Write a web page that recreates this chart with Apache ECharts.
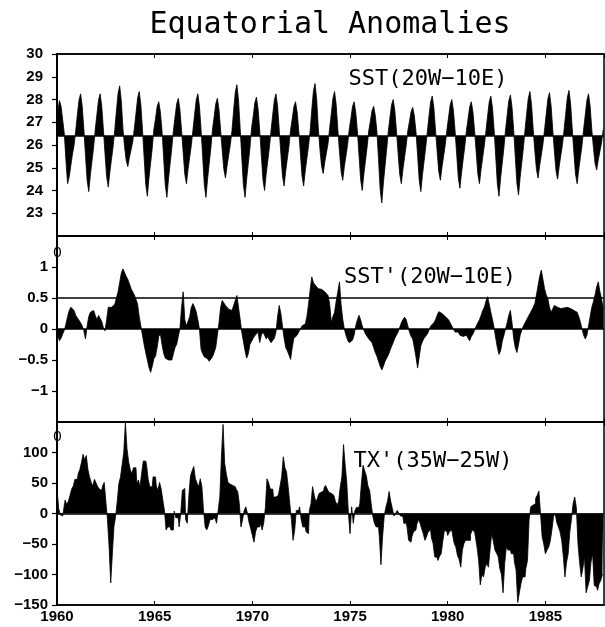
<!DOCTYPE html>
<html><head><meta charset="utf-8">
<script src="https://cdn.jsdelivr.net/npm/echarts@6/dist/echarts.min.js"></script>
<style>html,body{margin:0;padding:0;background:#fff}#c{width:605px;height:627px}</style>
</head><body><div id="c"></div>
<script>
const startYear = 1960, endYear = 1988;
const yearTicks = [1960, 1965, 1970, 1975, 1980, 1985];
const sstBase = 26.4;
const panelLabels = ["SST(20W\u221210E)", "SST'(20W\u221210E)", "TX'(35W\u221225W)"];
const titleText = "Equatorial Anomalies";

// SST (deg C), monthly Jan..Dec, 1960-1987
const sst = [
27.50,27.95,27.70,27.10,26.50,25.30,24.30,24.60,25.10,25.60,26.00,26.63,
27.33,27.97,28.25,27.70,26.68,25.54,24.44,23.95,24.69,25.30,25.91,26.68,
27.33,27.97,28.25,27.70,26.68,25.61,24.60,24.15,24.83,25.39,25.95,26.68,
27.50,28.27,28.60,27.94,26.73,25.93,25.32,25.05,25.46,25.79,26.13,26.73,
27.38,28.06,28.35,27.77,26.69,25.47,24.28,23.75,24.55,25.21,25.87,26.69,
27.15,27.68,27.90,27.45,26.63,25.46,24.24,23.70,24.51,25.19,25.86,26.63,
27.23,27.80,28.05,27.56,26.65,25.67,24.72,24.30,24.93,25.46,25.98,26.65,
27.33,27.97,28.25,27.70,26.68,25.46,24.24,23.70,24.51,25.19,25.86,26.68,
27.23,27.80,28.05,27.56,26.65,25.75,24.92,24.55,25.10,25.57,26.03,26.65,
27.53,28.31,28.65,27.98,26.74,25.46,24.24,23.70,24.51,25.19,25.86,26.74,
27.25,27.85,28.10,27.59,26.66,25.56,24.48,24.00,24.72,25.32,25.92,26.66,
27.33,27.97,28.25,27.70,26.68,25.63,24.64,24.20,24.86,25.41,25.96,26.68,
27.15,27.68,27.90,27.45,26.63,25.63,24.64,24.20,24.86,25.41,25.96,26.63,
27.55,28.36,28.70,28.01,26.75,25.82,25.08,24.75,25.25,25.66,26.07,26.75,
27.38,28.06,28.35,27.77,26.69,25.72,24.84,24.45,25.04,25.52,26.01,26.69,
27.15,27.68,27.90,27.45,26.63,25.56,24.48,24.00,24.72,25.32,25.92,26.63,
27.05,27.51,27.70,27.31,26.60,25.37,24.04,23.45,24.34,25.07,25.81,26.60,
27.20,27.76,28.00,27.52,26.64,25.67,24.72,24.30,24.93,25.46,25.98,26.64,
27.03,27.46,27.65,27.28,26.59,25.54,24.44,23.95,24.69,25.30,25.91,26.59,
27.28,27.89,28.15,27.63,26.66,25.72,24.84,24.45,25.04,25.52,26.01,26.66,
27.20,27.76,28.00,27.52,26.64,25.60,24.56,24.10,24.79,25.37,25.94,26.64,
27.15,27.68,27.90,27.45,26.63,25.67,24.72,24.30,24.93,25.46,25.98,26.63,
27.28,27.89,28.15,27.63,26.66,25.47,24.28,23.75,24.55,25.21,25.87,26.66,
27.30,27.93,28.20,27.66,26.67,25.49,24.32,23.80,24.58,25.23,25.88,26.67,
27.38,28.06,28.35,27.77,26.69,25.75,24.92,24.55,25.10,25.57,26.03,26.69,
27.35,28.02,28.30,27.73,26.69,25.74,24.88,24.50,25.07,25.55,26.02,26.69,
27.40,28.10,28.40,27.80,26.70,25.67,24.72,24.30,24.93,25.46,25.98,26.70,
27.33,27.97,28.25,27.70,26.68,25.88,25.20,24.90,25.35,25.73,26.10,26.68
];

// SST' anomaly (deg C), monthly 1960-1987
const sstAnom = [
-0.10,-0.19,-0.15,-0.08,-0.02,0.08,0.20,0.30,0.35,0.38,0.30,0.22,
0.18,0.15,0.10,0.05,-0.03,-0.16,0.05,0.20,0.27,0.25,0.30,0.22,
0.15,0.22,0.20,0.12,0.02,-0.03,0.15,0.35,0.38,0.35,0.33,0.40,
0.50,0.60,0.75,0.90,0.97,0.99,0.85,0.80,0.73,0.65,0.62,0.55,
0.48,0.40,0.20,0.05,-0.10,-0.25,-0.38,-0.50,-0.62,-0.70,-0.60,-0.48,
-0.44,-0.30,-0.12,-0.08,-0.25,-0.39,-0.47,-0.45,-0.50,-0.53,-0.50,-0.40,
-0.30,-0.25,-0.12,0.00,0.35,0.60,0.15,0.05,0.02,0.20,0.35,0.41,
0.35,0.28,0.15,0.00,-0.33,-0.40,-0.45,-0.42,-0.48,-0.52,-0.54,-0.45,
-0.38,-0.30,-0.10,0.10,0.35,0.46,0.42,0.38,0.35,0.32,0.30,0.30,
0.38,0.46,0.54,0.35,0.16,-0.05,-0.20,-0.35,-0.47,-0.40,-0.25,-0.20,
-0.15,-0.11,-0.08,-0.05,-0.22,-0.10,-0.05,-0.10,-0.16,-0.12,-0.18,-0.22,
-0.22,-0.15,-0.05,0.20,0.38,0.25,0.05,-0.15,-0.30,-0.35,-0.42,-0.49,
-0.30,-0.15,-0.16,-0.10,-0.05,0.00,0.05,0.05,0.08,0.20,0.40,0.63,
0.84,0.75,0.71,0.68,0.65,0.66,0.64,0.63,0.60,0.58,0.54,0.40,
0.11,0.20,0.27,0.45,0.60,0.76,0.40,0.16,0.00,-0.10,-0.18,-0.22,
-0.22,-0.18,-0.10,0.05,0.15,0.22,0.15,0.05,-0.02,-0.08,-0.12,-0.16,
-0.16,-0.22,-0.30,-0.38,-0.44,-0.52,-0.60,-0.66,-0.60,-0.52,-0.49,-0.42,
-0.35,-0.28,-0.22,-0.15,-0.10,-0.05,-0.02,0.10,0.15,0.19,0.15,0.05,
-0.05,-0.12,-0.16,-0.30,-0.45,-0.63,-0.45,-0.27,-0.20,-0.15,-0.14,-0.08,
-0.02,0.05,0.08,0.10,0.15,0.22,0.28,0.30,0.25,0.22,0.20,0.19,
0.15,0.10,0.05,0.00,-0.05,-0.08,-0.05,-0.10,-0.08,-0.12,-0.15,-0.10,
-0.15,-0.19,-0.12,-0.08,-0.02,0.05,0.10,0.15,0.22,0.30,0.35,0.45,
0.52,0.40,0.27,0.15,0.02,-0.15,-0.30,-0.41,-0.35,-0.20,-0.10,0.00,
0.10,0.22,0.30,0.10,-0.15,-0.30,-0.38,-0.25,-0.10,-0.02,0.05,0.10,
0.15,0.20,0.22,0.30,0.35,0.41,0.55,0.70,0.85,0.95,0.80,0.65,
0.55,0.49,0.35,0.27,0.30,0.38,0.36,0.35,0.33,0.33,0.35,0.34,
0.35,0.35,0.34,0.33,0.33,0.30,0.30,0.27,0.20,0.11,0.00,-0.10,
-0.16,-0.10,0.05,0.20,0.35,0.44,0.55,0.68,0.76,0.60,0.49,0.33
];

// TX' zonal wind-stress anomaly, monthly 1960-1987
const txAnom = [
26,8,-2,-4,5,22,15,20,30,40,45,56,
56,65,72,83,97,88,95,72,60,51,45,56,
50,44,40,38,45,51,20,-10,-55,-114,-66,-21,
-5,20,49,60,80,100,149,106,85,72,65,75,
75,49,55,44,66,86,86,80,56,44,44,60,
60,45,38,51,40,22,5,-27,-22,-22,-27,-27,
4,-7,-7,-22,0,38,41,-10,-16,30,62,70,
77,57,50,44,57,44,5,-22,-27,-20,-10,-10,
-7,-10,-16,5,27,93,146,82,65,51,48,46,
44,44,40,36,16,-22,-10,5,11,0,-15,-25,
-36,-47,-30,-22,-22,-16,-27,-15,10,57,50,40,
40,27,27,30,30,45,60,93,75,68,44,16,
-10,-44,-27,5,5,11,-10,-22,-22,-30,-33,5,
16,44,30,19,25,33,35,38,42,46,40,35,
33,30,27,20,14,20,44,60,113,80,51,0,
-33,11,-16,5,10,10,16,50,79,70,62,45,
38,16,-5,-16,-22,-22,-38,-84,-38,-4,10,20,
36,20,8,-4,0,5,0,-4,-5,-16,-16,-22,
-44,-47,-38,-30,-27,-18,-10,-16,-25,-33,-44,-38,
-30,-27,-40,-49,-71,-72,-77,-70,-66,-45,-27,-30,
-36,-30,-27,-35,-49,-55,-69,-75,-88,-60,-49,-44,
-44,-44,-35,-27,-30,-38,-55,-77,-117,-100,-104,-88,
-82,-88,-60,-33,-45,-60,-65,-71,-90,-100,-130,-82,
-55,-60,-60,-66,-66,-80,-93,-146,-130,-115,-104,-104,
-90,-77,-10,11,14,16,25,30,37,0,-38,-50,
-66,-60,-55,-45,-27,-5,0,-15,-22,-30,-44,-70,
-104,-80,-66,-30,-10,16,27,10,-49,-80,-104,-90,
-71,-130,-120,-110,-80,-66,-118,-120,-126,-115,-110,-100
];

function toPairs(arr) { return arr.map((v, i) => [startYear + (i + 0.5) / 12, v]); }
const minusFmt = v => String(v).replace('-', '\u2212');

const grids = [
  {left: 57, right: 1, top: 54, height: 182},
  {left: 57, right: 1, top: 236, height: 186},
  {left: 57, right: 1, top: 422, height: 183}
].map(g => Object.assign(g, {show: true, borderColor: '#000', borderWidth: 1.5, backgroundColor: 'transparent'}));

const xAxes = [];
for (let i = 0; i < 3; i++) {
  xAxes.push({
    gridIndex: i, type: 'value', min: startYear, max: endYear, interval: 5, position: 'bottom',
    axisLine: {show: true, onZero: false, lineStyle: {color: '#000', width: 1.5}},
    axisTick: {show: true, inside: true, length: 4, lineStyle: {color: '#000', width: 1}},
    axisLabel: {show: i === 2, fontSize: 15, fontWeight: 'bold', color: '#000', margin: 4, fontFamily: 'Liberation Sans',
      showMaxLabel: false, formatter: v => (yearTicks.indexOf(v) >= 0 ? String(v) : '')},
    splitLine: {show: false}
  });
}
for (let i = 0; i < 3; i++) {
  xAxes.push({
    gridIndex: i, type: 'value', min: startYear, max: endYear, interval: 5, position: 'top',
    axisLine: {show: true, onZero: false, lineStyle: {color: '#000', width: 1.5}},
    axisTick: {show: true, inside: true, length: 4, lineStyle: {color: '#000', width: 1}},
    axisLabel: {show: false}, splitLine: {show: false}
  });
}

const yCommon = (gi, min, max, interval, margin, showMin, showMax) => ({
  gridIndex: gi, type: 'value', min, max, interval,
  axisLine: {show: true, onZero: false, lineStyle: {color: '#000', width: 2}},
  axisTick: {show: true, inside: false, length: 5, lineStyle: {color: '#000', width: 1.2}},
  axisLabel: {fontSize: 15, fontWeight: 'bold', color: '#000', margin, fontFamily: 'Liberation Sans',
    showMinLabel: showMin, showMaxLabel: showMax, formatter: minusFmt},
  splitLine: {show: false}
});

const yAxes = [
  yCommon(0, 22, 30, 1, 14, false, true),
  yCommon(1, -1.5, 1.5, 0.5, 9, false, false),
  yCommon(2, -150, 150, 50, 9, true, false)
];

const mk = (vals) => ({silent: true, symbol: 'none', animation: false, label: {show: false},
  lineStyle: {color: '#000', width: 1.5, type: 'solid'}, data: vals.map(v => ({yAxis: v}))});

const series = [
  {type: 'line', xAxisIndex: 0, yAxisIndex: 0, data: toPairs(sst), symbol: 'none',
   lineStyle: {color: '#000', width: 0.8}, areaStyle: {color: '#000', opacity: 1, origin: sstBase},
   markLine: mk([sstBase])},
  {type: 'line', xAxisIndex: 1, yAxisIndex: 1, data: toPairs(sstAnom), symbol: 'none',
   lineStyle: {color: '#000', width: 0.8}, areaStyle: {color: '#000', opacity: 1, origin: 0},
   markLine: mk([0, 0.5])},
  {type: 'line', xAxisIndex: 2, yAxisIndex: 2, data: toPairs(txAnom), symbol: 'none', step: 'middle',
   lineStyle: {color: '#000', width: 0.8}, areaStyle: {color: '#000', opacity: 1, origin: 0},
   markLine: mk([0])}
];

const monoText = (text, x, y, size, sx) => ({
  type: 'text', x, y, scaleX: sx, z: 100,
  style: {text, font: size + 'px "DejaVu Sans Mono"', fill: '#000', align: 'center', verticalAlign: 'middle'}
});

const graphic = [
  monoText(titleText, 330, 25, 30, 1.0),
  monoText(panelLabels[0], 428, 79, 22, 1.0),
  monoText(panelLabels[1], 430, 277, 22, 1.0),
  monoText(panelLabels[2], 433, 461, 22, 1.0),
  {type: 'text', x: 57.5, y: 253, z: 100, style: {text: '0', font: '15px "Liberation Sans"', fill: '#000', align: 'center', verticalAlign: 'middle'}},
  {type: 'text', x: 57.5, y: 437, z: 100, style: {text: '0', font: '15px "Liberation Sans"', fill: '#000', align: 'center', verticalAlign: 'middle'}}
];

const chart = echarts.init(document.getElementById('c'), null, {renderer: 'canvas'});
chart.setOption({
  animation: false,
  backgroundColor: '#fff',
  grid: grids, xAxis: xAxes, yAxis: yAxes, series, graphic
});
</script></body></html>
